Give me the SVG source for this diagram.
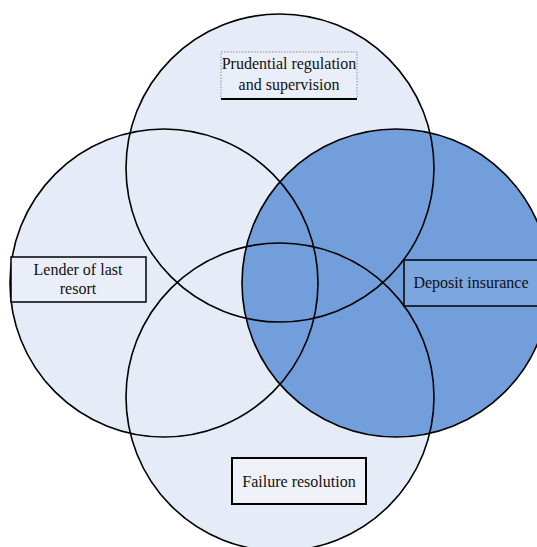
<svg xmlns="http://www.w3.org/2000/svg" width="537" height="547" viewBox="0 0 537 547">
<style>
.light{fill:#e6ecf7}
.blue{fill:#729fdb}
.ring{fill:none;stroke:#000;stroke-width:1.6}
text{font-family:"Liberation Serif","Times New Roman",serif;font-size:16px;fill:#111;text-anchor:middle}
</style>
<rect width="537" height="547" fill="#fff"/>
<g id="connectors">
<circle class="light" cx="280" cy="168" r="154"/>
<circle class="light" cx="164" cy="283" r="154"/>
<circle class="light" cx="280" cy="397" r="154"/>
<circle class="blue" cx="396" cy="283" r="154"/>
<circle class="ring" cx="280" cy="168" r="154"/>
<circle class="ring" cx="164" cy="283" r="154"/>
<circle class="ring" cx="280" cy="397" r="154"/>
<circle class="ring" cx="396" cy="283" r="154"/>
</g>
<g id="prudential">
<rect x="221" y="52" width="136" height="47" fill="#e9eef8" stroke="#777" stroke-width="0.8" stroke-dasharray="1.5,1.5"/>
<line x1="221" y1="99" x2="357" y2="99" stroke="#000" stroke-width="2"/>
<text x="289" y="69">Prudential regulation</text>
<text x="289" y="90">and supervision</text>
</g>
<g id="lender">
<rect x="11" y="257" width="135" height="45" fill="#e9eef8" stroke="#000" stroke-width="1.5"/>
<text x="78" y="275">Lender of last</text>
<text x="78" y="294">resort</text>
</g>
<g id="deposit">
<rect x="404" y="260" width="140" height="46" fill="#7ba6e0" stroke="#000" stroke-width="1.5"/>
<text x="471" y="288">Deposit insurance</text>
</g>
<g id="failure">
<rect x="232" y="458" width="134" height="46" fill="#eef1f8" stroke="#000" stroke-width="2"/>
<text x="299" y="487">Failure resolution</text>
</g>
</svg>
